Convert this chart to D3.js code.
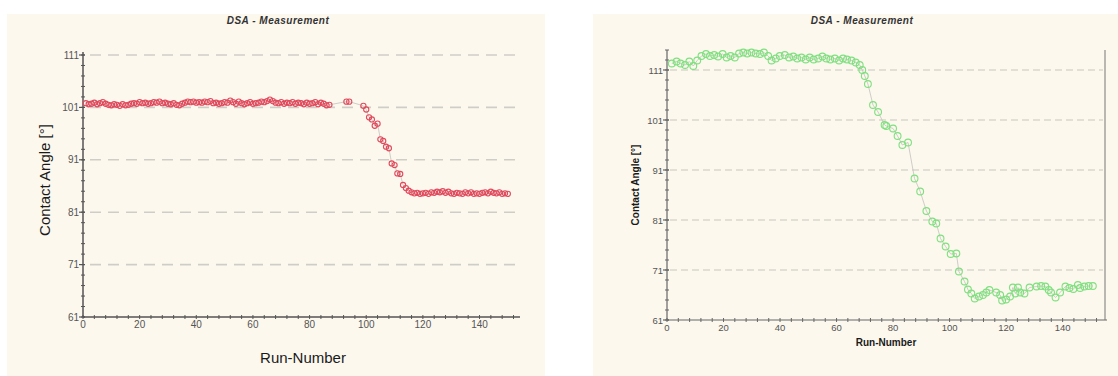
<!DOCTYPE html>
<html>
<head>
<meta charset="utf-8">
<script src="https://cdn.jsdelivr.net/npm/d3@7"></script>
<style>
  body { margin: 0; background: #fff; }
  svg { display: block; }
  text { font-family: "Liberation Sans", Arial, sans-serif; }
  .tick-label { font-family: "Liberation Sans Narrow", "Liberation Sans", Arial, sans-serif; }
</style>
</head>
<body>
<svg id="svg" width="1118" height="376"></svg>
<script>
// tick values shared by both panels
const yTicks = [61, 71, 81, 91, 101, 111];
const xTicks = [0, 20, 40, 60, 80, 100, 120, 140];

// left panel: run numbers (with missing runs) and contact angles
const leftRuns = [...d3.range(1, 88), 93, 94, ...d3.range(99, 151)];
const leftAngles = [
  101.8, 101.6, 101.7, 101.9, 101.6, 101.8, 102.0, 101.7, 101.5, 101.4,
  101.6, 101.5, 101.3, 101.6, 101.4, 101.5, 101.7, 101.8, 101.7, 102.0,
  101.8, 101.9, 101.7, 101.8, 102.0, 101.9, 102.1, 101.8, 101.9, 101.7,
  101.6, 101.8, 101.5, 101.4, 101.7, 101.9, 102.1, 102.0, 102.1, 101.9,
  102.0, 101.9, 102.1, 102.0, 102.2, 101.8, 101.9, 101.7, 101.8, 102.0,
  101.9, 102.3, 102.0, 101.7, 102.1, 101.8, 101.6, 101.8, 102.0, 101.7,
  101.8, 101.9, 102.1, 102.0, 102.2, 102.5, 102.2, 101.9, 101.8, 102.0,
  101.7, 101.9, 101.8, 102.0, 101.7, 101.9, 101.8, 101.6, 101.9, 101.7,
  101.8, 102.0, 101.6, 101.9, 101.7, 101.4, 101.5,
  102.1, 102.1,
  101.3, 100.6, 99.1, 98.7, 97.5, 97.9, 94.9, 94.6, 93.5, 93.2,
  90.3, 90.0, 88.4, 88.3, 86.2, 85.6,
  85.1, 84.8, 84.6, 84.7, 84.5, 84.6, 84.7, 84.5, 84.8, 84.7,
  84.9, 84.8, 85.0, 84.7, 84.9, 84.6, 84.5, 84.7, 84.6, 84.5,
  84.8, 84.6, 84.8, 84.5, 84.6, 84.5, 84.7, 84.8, 84.6, 84.9,
  84.7, 84.6, 84.8, 84.5, 84.6, 84.5
];

// right panel: run positions and contact angles
const rightRuns = [
  1.7, 3.4, 4.8, 6.4, 7.9, 9.3, 10.7, 12.2, 13.8, 15.2,
  16.7, 18.1, 19.7, 21.1, 22.5, 24, 25.5, 27, 28.4, 29.9,
  31.4, 32.9, 34.3, 35.8, 37, 38.5, 39.9, 41.7, 43.2, 44.7,
  46.1, 47.6, 49.1, 50.5, 51.9, 53.5, 55, 56.4, 57.8, 59.4,
  60.9, 62.3, 63.7, 65.3, 66.8, 68.2, 69.1, 70, 71.1, 72.9,
  74.7, 77, 77.6, 80, 81.6, 83.3, 85.3, 87.6, 89.6, 91.8,
  93.9, 95.3, 96.8, 98.6, 100.4, 102.4, 103.3, 105.3, 106.5, 107.7,
  108.9, 110.4, 111.8, 113, 114.1, 116.5, 117.9, 118.6, 120, 121.4,
  122.4, 123.3, 124.2, 125, 126.5, 128.3, 130.8, 132.4, 133.9, 135.1,
  135.9, 137.5, 139.1, 141, 142.4, 143.8, 145.4, 146.2, 147.7, 149.2,
  150.7
];
const rightAngles = [
  112.3, 112.7, 112.3, 112.0, 112.7, 111.8, 112.9, 113.8, 114.2, 113.8,
  114.0, 113.7, 114.2, 113.5, 113.8, 113.5, 114.3, 114.5, 114.3, 114.5,
  114.3, 114.2, 114.5, 113.8, 112.9, 113.3, 113.8, 114.0, 113.5, 113.7,
  113.3, 113.5, 113.1, 113.5, 113.1, 113.3, 113.7, 113.3, 113.1, 113.3,
  112.9, 113.3, 113.1, 112.9, 112.5, 112.0, 111.0, 109.8, 108.2, 104.0,
  102.6, 100.0, 99.8, 99.3, 97.8, 96.0, 96.5, 89.3, 86.7, 82.8,
  80.7, 80.3, 77.3, 75.7, 74.2, 74.3, 70.7, 68.7, 67.1, 66.3,
  65.3, 65.7, 66.0, 66.5, 67.0, 66.5, 66.0, 64.9, 65.1, 65.7,
  67.5, 66.3, 67.5, 66.5, 66.3, 67.5, 67.7, 67.8, 67.7, 67.0,
  66.5, 65.5, 66.5, 67.7, 67.4, 67.2, 68.0, 67.4, 67.7, 67.8,
  67.8
];

const svg = d3.select('#svg');

function drawPanel(cfg) {
  const g = svg.append('g');

  g.append('rect')
    .attr('x', cfg.bg[0]).attr('y', cfg.bg[1])
    .attr('width', cfg.bg[2]).attr('height', cfg.bg[3])
    .attr('fill', '#fcf8ee');

  const xScale = d3.scaleLinear().domain([0, 155]).range([cfg.x0, cfg.x1]);
  const yScale = d3.scaleLinear().domain([61, 111]).range([cfg.y0, cfg.y111]);
  const yTop = cfg.yTopVal;

  // dashed grid
  g.selectAll('.grid')
    .data(yTicks.slice(1))
    .enter()
    .append('line')
    .attr('x1', cfg.gridStart).attr('x2', cfg.gridEnd)
    .attr('y1', d => yScale(d)).attr('y2', d => yScale(d))
    .attr('stroke', cfg.gridColor)
    .attr('stroke-width', cfg.gridWidth)
    .attr('stroke-dasharray', cfg.gridDash);

  // minor ticks
  g.selectAll('.ymin')
    .data(d3.range(61, yTop + 0.1, 2))
    .enter()
    .append('line')
    .attr('x1', cfg.x0 - 2).attr('x2', cfg.x0 + 2)
    .attr('y1', d => yScale(d)).attr('y2', d => yScale(d))
    .attr('stroke', cfg.axisColor).attr('stroke-width', 1);

  g.selectAll('.xmin')
    .data(d3.range(0, 156, 4))
    .enter()
    .append('line')
    .attr('x1', d => xScale(d)).attr('x2', d => xScale(d))
    .attr('y1', cfg.y0 - 2).attr('y2', cfg.y0 + 2)
    .attr('stroke', cfg.axisColor).attr('stroke-width', 1);

  // major ticks
  g.selectAll('.ymaj')
    .data(yTicks)
    .enter()
    .append('line')
    .attr('x1', cfg.x0 - 4).attr('x2', cfg.x0 + 2)
    .attr('y1', d => yScale(d)).attr('y2', d => yScale(d))
    .attr('stroke', cfg.axisColor).attr('stroke-width', 1.2);

  // axis lines
  g.append('line')
    .attr('x1', cfg.x0).attr('x2', cfg.x0)
    .attr('y1', yScale(yTop) - cfg.axisOver).attr('y2', cfg.y0)
    .attr('stroke', cfg.axisColor).attr('stroke-width', cfg.axisWidth);
  g.append('line')
    .attr('x1', cfg.x0).attr('x2', cfg.xAxisEnd)
    .attr('y1', cfg.y0).attr('y2', cfg.y0)
    .attr('stroke', cfg.axisColor).attr('stroke-width', cfg.axisWidth);
  if (cfg.rightBorder) {
    g.append('line')
      .attr('x1', xScale(155)).attr('x2', xScale(155))
      .attr('y1', yScale(yTop)).attr('y2', cfg.y0)
      .attr('stroke', '#777').attr('stroke-width', 1);
  }

  // tick labels
  g.selectAll('.ylab')
    .data(yTicks)
    .enter()
    .append('text')
    .attr('class', 'tick-label')
    .attr('x', cfg.x0 - 4)
    .attr('y', d => yScale(d) + 3.5)
    .attr('text-anchor', 'end')
    .attr('font-size', cfg.tickSize)
    .attr('fill', '#555')
    .text(d => d);

  g.selectAll('.xlab')
    .data(xTicks)
    .enter()
    .append('text')
    .attr('class', 'tick-label')
    .attr('x', d => xScale(d))
    .attr('y', cfg.y0 + cfg.xLabOff)
    .attr('text-anchor', 'middle')
    .attr('font-size', cfg.tickSize)
    .attr('fill', '#555')
    .text(d => d);

  // connecting line and markers
  const pts = cfg.runs.map((r, i) => [r, cfg.angles[i]]);
  const line = d3.line().x(d => xScale(d[0])).y(d => yScale(d[1]));
  g.append('path')
    .attr('d', line(pts))
    .attr('fill', 'none')
    .attr('stroke', '#c4c0bc')
    .attr('stroke-width', 0.8);

  g.selectAll('.pt')
    .data(pts)
    .enter()
    .append('circle')
    .attr('cx', d => xScale(d[0]))
    .attr('cy', d => yScale(d[1]))
    .attr('r', cfg.r)
    .attr('fill', 'none')
    .attr('stroke', cfg.color)
    .attr('stroke-width', 1.1);

  // titles
  g.append('text')
    .attr('x', cfg.titleX).attr('y', 24)
    .attr('text-anchor', 'middle')
    .attr('font-size', 10)
    .attr('font-weight', 'bold')
    .attr('font-style', 'italic')
    .attr('letter-spacing', 0.5)
    .attr('fill', '#333')
    .text('DSA - Measurement');

  g.append('text')
    .attr('transform', `translate(${cfg.yLabX},${cfg.yLabY}) rotate(-90)`)
    .attr('text-anchor', 'middle')
    .attr('font-size', cfg.labSize)
    .attr('font-weight', cfg.labWeight)
    .attr('fill', '#1a1a1a')
    .text('Contact Angle [°]');

  g.append('text')
    .attr('x', cfg.xLabX).attr('y', cfg.xLabY)
    .attr('text-anchor', 'middle')
    .attr('font-size', cfg.labSize)
    .attr('font-weight', cfg.labWeight)
    .attr('fill', '#1a1a1a')
    .text('Run-Number');
}

drawPanel({
  bg: [7, 14, 538, 362],
  x0: 83, x1: 522, y0: 317, y111: 55, yTopVal: 111, axisOver: 3, xAxisEnd: 520,
  gridStart: 90, gridEnd: 515, gridColor: '#cfcdc8', gridWidth: 1.6, gridDash: '11,7',
  axisColor: '#555', axisWidth: 1.5, rightBorder: false,
  tickSize: 10, xLabOff: 11,
  runs: leftRuns, angles: leftAngles, color: '#e2495c', r: 2.6,
  titleX: 278, yLabX: 50, yLabY: 180, xLabX: 303, xLabY: 363,
  labSize: 15, labWeight: 'normal'
});

drawPanel({
  bg: [593, 14, 525, 362],
  x0: 667, x1: 1105, y0: 320, y111: 70, yTopVal: 115, axisOver: 0, xAxisEnd: 1107,
  gridStart: 670, gridEnd: 1103, gridColor: '#c8c6c0', gridWidth: 1, gridDash: '7,4',
  axisColor: '#666', axisWidth: 1.2, rightBorder: true,
  tickSize: 9.5, xLabOff: 11,
  runs: rightRuns, angles: rightAngles, color: '#7fe07f', r: 3.4,
  titleX: 862, yLabX: 639, yLabY: 185, xLabX: 886, xLabY: 346,
  labSize: 10, labWeight: 'bold'
});
</script>
</body>
</html>
